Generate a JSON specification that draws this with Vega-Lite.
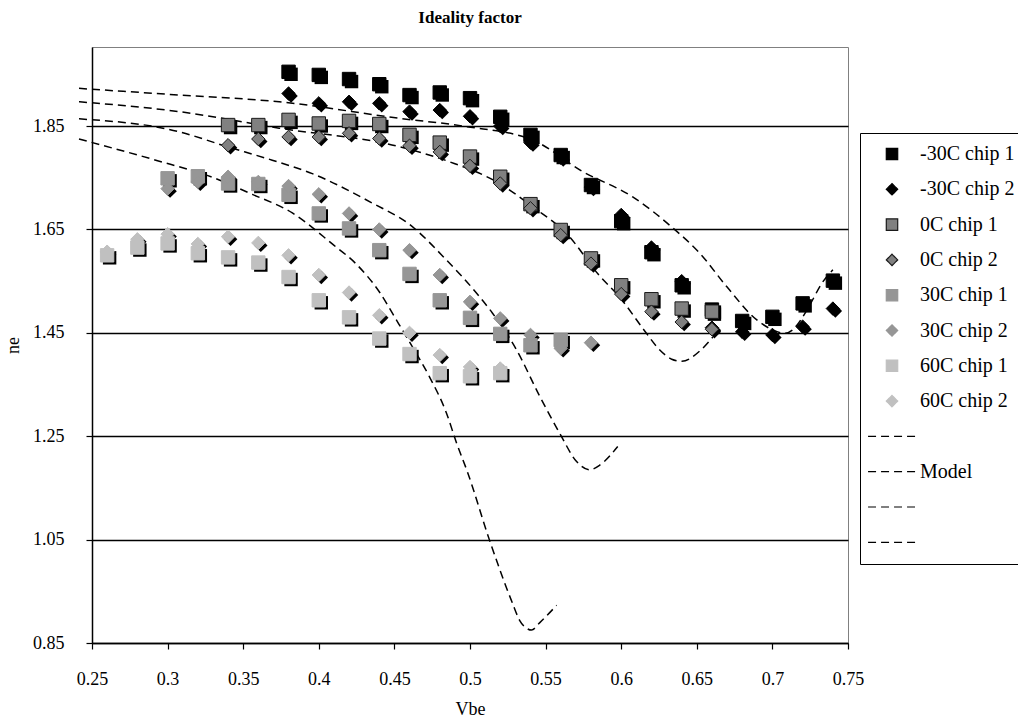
{
  "$schema": "https://vega.github.io/schema/vega-lite/v6.json",
  "width": 756,
  "height": 596,
  "autosize": {"type": "none"},
  "padding": {"left": 92, "top": 47, "right": 170, "bottom": 82},
  "background": "white",
  "title": {"text": "Ideality factor", "font": "Liberation Serif", "fontSize": 17, "fontWeight": "bold", "anchor": "middle", "offset": 20, "color": "black"},
  "config": {
    "font": "Liberation Serif",
    "view": {"stroke": "#808080", "strokeWidth": 1},
    "axis": {"labelFont": "Liberation Serif", "titleFont": "Liberation Serif", "labelFontSize": 18, "titleFontSize": 18, "titleFontWeight": "normal", "labelColor": "black", "titleColor": "black", "domainColor": "black", "tickColor": "black", "tickSize": 6, "domainWidth": 1.5, "tickWidth": 1.2, "labelFlush": false},
    "legend": {"orient": "none", "legendX": 768, "legendY": 86, "title": null, "labelFont": "Liberation Serif", "labelFontSize": 20, "labelColor": "black", "strokeColor": "black", "fillColor": "white", "padding": 11, "symbolSize": 130, "symbolStrokeWidth": 1.2, "labelOffset": 18, "rowPadding": 15.3, "symbolOffset": 11}
  },
  "datasets": {
    "pts": [
      {"s": "-30C chip 1", "v": 0.38, "ne": 1.955}, {"s": "-30C chip 1", "v": 0.40, "ne": 1.949}, {"s": "-30C chip 1", "v": 0.42, "ne": 1.941}, {"s": "-30C chip 1", "v": 0.44, "ne": 1.931}, {"s": "-30C chip 1", "v": 0.46, "ne": 1.910}, {"s": "-30C chip 1", "v": 0.48, "ne": 1.915}, {"s": "-30C chip 1", "v": 0.50, "ne": 1.904}, {"s": "-30C chip 1", "v": 0.52, "ne": 1.868}, {"s": "-30C chip 1", "v": 0.54, "ne": 1.833}, {"s": "-30C chip 1", "v": 0.56, "ne": 1.794}, {"s": "-30C chip 1", "v": 0.58, "ne": 1.736}, {"s": "-30C chip 1", "v": 0.60, "ne": 1.666}, {"s": "-30C chip 1", "v": 0.62, "ne": 1.606}, {"s": "-30C chip 1", "v": 0.64, "ne": 1.542}, {"s": "-30C chip 1", "v": 0.66, "ne": 1.495}, {"s": "-30C chip 1", "v": 0.68, "ne": 1.473}, {"s": "-30C chip 1", "v": 0.70, "ne": 1.481}, {"s": "-30C chip 1", "v": 0.72, "ne": 1.507}, {"s": "-30C chip 1", "v": 0.74, "ne": 1.551},
      {"s": "-30C chip 2", "v": 0.38, "ne": 1.913}, {"s": "-30C chip 2", "v": 0.40, "ne": 1.894}, {"s": "-30C chip 2", "v": 0.42, "ne": 1.897}, {"s": "-30C chip 2", "v": 0.44, "ne": 1.894}, {"s": "-30C chip 2", "v": 0.46, "ne": 1.878}, {"s": "-30C chip 2", "v": 0.48, "ne": 1.881}, {"s": "-30C chip 2", "v": 0.50, "ne": 1.869}, {"s": "-30C chip 2", "v": 0.52, "ne": 1.850}, {"s": "-30C chip 2", "v": 0.54, "ne": 1.818}, {"s": "-30C chip 2", "v": 0.56, "ne": 1.789}, {"s": "-30C chip 2", "v": 0.58, "ne": 1.732}, {"s": "-30C chip 2", "v": 0.60, "ne": 1.678}, {"s": "-30C chip 2", "v": 0.62, "ne": 1.615}, {"s": "-30C chip 2", "v": 0.64, "ne": 1.550}, {"s": "-30C chip 2", "v": 0.66, "ne": 1.460}, {"s": "-30C chip 2", "v": 0.68, "ne": 1.452}, {"s": "-30C chip 2", "v": 0.70, "ne": 1.446}, {"s": "-30C chip 2", "v": 0.72, "ne": 1.462}, {"s": "-30C chip 2", "v": 0.74, "ne": 1.497},
      {"s": "0C chip 1", "v": 0.34, "ne": 1.852}, {"s": "0C chip 1", "v": 0.36, "ne": 1.852}, {"s": "0C chip 1", "v": 0.38, "ne": 1.862}, {"s": "0C chip 1", "v": 0.40, "ne": 1.855}, {"s": "0C chip 1", "v": 0.42, "ne": 1.860}, {"s": "0C chip 1", "v": 0.44, "ne": 1.854}, {"s": "0C chip 1", "v": 0.46, "ne": 1.833}, {"s": "0C chip 1", "v": 0.48, "ne": 1.818}, {"s": "0C chip 1", "v": 0.50, "ne": 1.791}, {"s": "0C chip 1", "v": 0.52, "ne": 1.752}, {"s": "0C chip 1", "v": 0.54, "ne": 1.699}, {"s": "0C chip 1", "v": 0.56, "ne": 1.649}, {"s": "0C chip 1", "v": 0.58, "ne": 1.594}, {"s": "0C chip 1", "v": 0.60, "ne": 1.542}, {"s": "0C chip 1", "v": 0.62, "ne": 1.515}, {"s": "0C chip 1", "v": 0.64, "ne": 1.497}, {"s": "0C chip 1", "v": 0.66, "ne": 1.491},
      {"s": "0C chip 2", "v": 0.34, "ne": 1.813}, {"s": "0C chip 2", "v": 0.36, "ne": 1.825}, {"s": "0C chip 2", "v": 0.38, "ne": 1.829}, {"s": "0C chip 2", "v": 0.40, "ne": 1.829}, {"s": "0C chip 2", "v": 0.42, "ne": 1.836}, {"s": "0C chip 2", "v": 0.44, "ne": 1.826}, {"s": "0C chip 2", "v": 0.46, "ne": 1.812}, {"s": "0C chip 2", "v": 0.48, "ne": 1.800}, {"s": "0C chip 2", "v": 0.50, "ne": 1.773}, {"s": "0C chip 2", "v": 0.52, "ne": 1.739}, {"s": "0C chip 2", "v": 0.54, "ne": 1.691}, {"s": "0C chip 2", "v": 0.56, "ne": 1.639}, {"s": "0C chip 2", "v": 0.58, "ne": 1.584}, {"s": "0C chip 2", "v": 0.60, "ne": 1.525}, {"s": "0C chip 2", "v": 0.62, "ne": 1.491}, {"s": "0C chip 2", "v": 0.64, "ne": 1.471}, {"s": "0C chip 2", "v": 0.66, "ne": 1.457},
      {"s": "30C chip 1", "v": 0.30, "ne": 1.749}, {"s": "30C chip 1", "v": 0.32, "ne": 1.753}, {"s": "30C chip 1", "v": 0.34, "ne": 1.739}, {"s": "30C chip 1", "v": 0.36, "ne": 1.738}, {"s": "30C chip 1", "v": 0.38, "ne": 1.717}, {"s": "30C chip 1", "v": 0.40, "ne": 1.681}, {"s": "30C chip 1", "v": 0.42, "ne": 1.652}, {"s": "30C chip 1", "v": 0.44, "ne": 1.610}, {"s": "30C chip 1", "v": 0.46, "ne": 1.564}, {"s": "30C chip 1", "v": 0.48, "ne": 1.513}, {"s": "30C chip 1", "v": 0.50, "ne": 1.479}, {"s": "30C chip 1", "v": 0.52, "ne": 1.448}, {"s": "30C chip 1", "v": 0.54, "ne": 1.426}, {"s": "30C chip 1", "v": 0.56, "ne": 1.436},
      {"s": "30C chip 2", "v": 0.30, "ne": 1.729}, {"s": "30C chip 2", "v": 0.32, "ne": 1.742}, {"s": "30C chip 2", "v": 0.34, "ne": 1.752}, {"s": "30C chip 2", "v": 0.36, "ne": 1.742}, {"s": "30C chip 2", "v": 0.38, "ne": 1.734}, {"s": "30C chip 2", "v": 0.40, "ne": 1.718}, {"s": "30C chip 2", "v": 0.42, "ne": 1.681}, {"s": "30C chip 2", "v": 0.44, "ne": 1.650}, {"s": "30C chip 2", "v": 0.46, "ne": 1.610}, {"s": "30C chip 2", "v": 0.48, "ne": 1.562}, {"s": "30C chip 2", "v": 0.50, "ne": 1.510}, {"s": "30C chip 2", "v": 0.52, "ne": 1.478}, {"s": "30C chip 2", "v": 0.54, "ne": 1.446}, {"s": "30C chip 2", "v": 0.56, "ne": 1.420}, {"s": "30C chip 2", "v": 0.58, "ne": 1.431},
      {"s": "60C chip 1", "v": 0.26, "ne": 1.600}, {"s": "60C chip 1", "v": 0.28, "ne": 1.615}, {"s": "60C chip 1", "v": 0.30, "ne": 1.623}, {"s": "60C chip 1", "v": 0.32, "ne": 1.604}, {"s": "60C chip 1", "v": 0.34, "ne": 1.596}, {"s": "60C chip 1", "v": 0.36, "ne": 1.586}, {"s": "60C chip 1", "v": 0.38, "ne": 1.558}, {"s": "60C chip 1", "v": 0.40, "ne": 1.513}, {"s": "60C chip 1", "v": 0.42, "ne": 1.480}, {"s": "60C chip 1", "v": 0.44, "ne": 1.439}, {"s": "60C chip 1", "v": 0.46, "ne": 1.409}, {"s": "60C chip 1", "v": 0.48, "ne": 1.372}, {"s": "60C chip 1", "v": 0.50, "ne": 1.366}, {"s": "60C chip 1", "v": 0.52, "ne": 1.372},
      {"s": "60C chip 2", "v": 0.26, "ne": 1.607}, {"s": "60C chip 2", "v": 0.28, "ne": 1.631}, {"s": "60C chip 2", "v": 0.30, "ne": 1.641}, {"s": "60C chip 2", "v": 0.32, "ne": 1.622}, {"s": "60C chip 2", "v": 0.34, "ne": 1.636}, {"s": "60C chip 2", "v": 0.36, "ne": 1.624}, {"s": "60C chip 2", "v": 0.38, "ne": 1.600}, {"s": "60C chip 2", "v": 0.40, "ne": 1.562}, {"s": "60C chip 2", "v": 0.42, "ne": 1.528}, {"s": "60C chip 2", "v": 0.44, "ne": 1.484}, {"s": "60C chip 2", "v": 0.46, "ne": 1.450}, {"s": "60C chip 2", "v": 0.48, "ne": 1.407}, {"s": "60C chip 2", "v": 0.50, "ne": 1.384}, {"s": "60C chip 2", "v": 0.52, "ne": 1.381}
    ],
    "model": [
      {"s": "m1", "v": 0.2414, "ne": 1.923}, {"s": "m1", "v": 0.3076, "ne": 1.910}, {"s": "m1", "v": 0.3738, "ne": 1.897}, {"s": "m1", "v": 0.4533, "ne": 1.865}, {"s": "m1", "v": 0.4977, "ne": 1.849}, {"s": "m1", "v": 0.5414, "ne": 1.823}, {"s": "m1", "v": 0.5745, "ne": 1.762}, {"s": "m1", "v": 0.6076, "ne": 1.713}, {"s": "m1", "v": 0.6341, "ne": 1.653}, {"s": "m1", "v": 0.6520, "ne": 1.604}, {"s": "m1", "v": 0.6699, "ne": 1.539}, {"s": "m1", "v": 0.6897, "ne": 1.475}, {"s": "m1", "v": 0.700, "ne": 1.456}, {"s": "m1", "v": 0.708, "ne": 1.449}, {"s": "m1", "v": 0.7135, "ne": 1.456}, {"s": "m1", "v": 0.7185, "ne": 1.474}, {"s": "m1", "v": 0.7255, "ne": 1.508}, {"s": "m1", "v": 0.7325, "ne": 1.545}, {"s": "m1", "v": 0.740, "ne": 1.572},
      {"s": "Model", "v": 0.2414, "ne": 1.897}, {"s": "Model", "v": 0.3076, "ne": 1.878}, {"s": "Model", "v": 0.3738, "ne": 1.846}, {"s": "Model", "v": 0.4533, "ne": 1.810}, {"s": "Model", "v": 0.4864, "ne": 1.781}, {"s": "Model", "v": 0.5195, "ne": 1.739}, {"s": "Model", "v": 0.5414, "ne": 1.694}, {"s": "Model", "v": 0.5639, "ne": 1.642}, {"s": "Model", "v": 0.5858, "ne": 1.560}, {"s": "Model", "v": 0.5990, "ne": 1.519}, {"s": "Model", "v": 0.6142, "ne": 1.459}, {"s": "Model", "v": 0.6255, "ne": 1.417}, {"s": "Model", "v": 0.6334, "ne": 1.399}, {"s": "Model", "v": 0.6401, "ne": 1.395}, {"s": "Model", "v": 0.6520, "ne": 1.415}, {"s": "Model", "v": 0.6606, "ne": 1.442},
      {"s": "m3", "v": 0.2414, "ne": 1.864}, {"s": "m3", "v": 0.3076, "ne": 1.839}, {"s": "m3", "v": 0.3385, "ne": 1.811}, {"s": "m3", "v": 0.3692, "ne": 1.784}, {"s": "m3", "v": 0.3957, "ne": 1.758}, {"s": "m3", "v": 0.4354, "ne": 1.701}, {"s": "m3", "v": 0.4599, "ne": 1.660}, {"s": "m3", "v": 0.4844, "ne": 1.591}, {"s": "m3", "v": 0.5063, "ne": 1.520}, {"s": "m3", "v": 0.5149, "ne": 1.488}, {"s": "m3", "v": 0.5308, "ne": 1.417}, {"s": "m3", "v": 0.5460, "ne": 1.328}, {"s": "m3", "v": 0.5593, "ne": 1.256}, {"s": "m3", "v": 0.5705, "ne": 1.201}, {"s": "m3", "v": 0.5791, "ne": 1.185}, {"s": "m3", "v": 0.5858, "ne": 1.194}, {"s": "m3", "v": 0.5977, "ne": 1.230},
      {"s": "m4", "v": 0.2414, "ne": 1.825}, {"s": "m4", "v": 0.2922, "ne": 1.784}, {"s": "m4", "v": 0.3295, "ne": 1.751}, {"s": "m4", "v": 0.3560, "ne": 1.718}, {"s": "m4", "v": 0.3825, "ne": 1.682}, {"s": "m4", "v": 0.4089, "ne": 1.622}, {"s": "m4", "v": 0.4248, "ne": 1.583}, {"s": "m4", "v": 0.4401, "ne": 1.529}, {"s": "m4", "v": 0.4513, "ne": 1.475}, {"s": "m4", "v": 0.4619, "ne": 1.423}, {"s": "m4", "v": 0.4732, "ne": 1.365}, {"s": "m4", "v": 0.4844, "ne": 1.295}, {"s": "m4", "v": 0.4911, "ne": 1.237}, {"s": "m4", "v": 0.4983, "ne": 1.181}, {"s": "m4", "v": 0.5129, "ne": 1.049}, {"s": "m4", "v": 0.5281, "ne": 0.927}, {"s": "m4", "v": 0.5328, "ne": 0.894}, {"s": "m4", "v": 0.5372, "ne": 0.879}, {"s": "m4", "v": 0.5407, "ne": 0.875}, {"s": "m4", "v": 0.5460, "ne": 0.889}, {"s": "m4", "v": 0.5573, "ne": 0.923}
    ]
  },
  "encoding": {
    "x": {"field": "v", "type": "quantitative", "scale": {"domain": [0.25, 0.75], "nice": false, "zero": false},
      "axis": {"title": "Vbe", "values": [0.25, 0.3, 0.35, 0.4, 0.45, 0.5, 0.55, 0.6, 0.65, 0.7, 0.75], "format": ".2~f", "grid": false, "labelPadding": 21, "titlePadding": 12, "labelFlush": false}},
    "y": {"field": "ne", "type": "quantitative", "scale": {"domain": [0.85, 2.003], "nice": false, "zero": false},
      "axis": {"title": "ne", "values": [0.85, 1.05, 1.25, 1.45, 1.65, 1.85], "format": ".2f", "grid": true, "gridColor": "black", "gridWidth": 1.3, "gridOpacity": 1, "labelPadding": 22, "titlePadding": 10, "labelFlush": false}}
  },
  "layer": [
    {
      "data": {"name": "model"},
      "mark": {"type": "line", "clip": false, "interpolate": "monotone", "strokeWidth": 1.5},
      "encoding": {
        "stroke": {"field": "s", "type": "nominal",
          "scale": {"domain": ["-30C chip 1", "-30C chip 2", "0C chip 1", "0C chip 2", "30C chip 1", "30C chip 2", "60C chip 1", "60C chip 2", "m1", "Model", "m3", "m4"],
            "range": ["#000000", "#000000", "#1a1a1a", "#1a1a1a", "#969696", "#969696", "#C0C0C0", "#C0C0C0", "#000000", "#000000", "#000000", "#000000"]},
          "legend": {"labelExpr": "indexof(datum.label, 'chip') >= 0 || datum.label == 'Model' ? datum.label : ''"}},
        "strokeDash": {"field": "s", "type": "nominal",
          "scale": {"domain": ["-30C chip 1", "-30C chip 2", "0C chip 1", "0C chip 2", "30C chip 1", "30C chip 2", "60C chip 1", "60C chip 2", "m1", "Model", "m3", "m4"],
            "range": [[1, 0], [1, 0], [1, 0], [1, 0], [1, 0], [1, 0], [1, 0], [1, 0], [8, 5], [8, 5], [8, 5], [8, 5]]},
          "legend": {"labelExpr": "indexof(datum.label, 'chip') >= 0 || datum.label == 'Model' ? datum.label : ''"}}
      }
    },
    {
      "data": {"name": "pts"},
      "mark": {"type": "point", "filled": true, "size": 180, "opacity": 1, "fill": "black", "xOffset": 2.5, "yOffset": 2.5, "strokeWidth": 0},
      "encoding": {
        "shape": {"field": "s", "type": "nominal",
          "scale": {"domain": ["-30C chip 1", "-30C chip 2", "0C chip 1", "0C chip 2", "30C chip 1", "30C chip 2", "60C chip 1", "60C chip 2", "m1", "Model", "m3", "m4"],
            "range": ["square", "diamond", "square", "diamond", "square", "diamond", "square", "diamond", "M-4.2,0H4.2", "M-4.2,0H4.2", "M-4.2,0H4.2", "M-4.2,0H4.2"]},
          "legend": {"labelExpr": "indexof(datum.label, 'chip') >= 0 || datum.label == 'Model' ? datum.label : ''"}}
      }
    },
    {
      "data": {"name": "pts"},
      "mark": {"type": "point", "filled": true, "size": 180, "opacity": 1, "strokeWidth": 1},
      "encoding": {
        "shape": {"field": "s", "type": "nominal"},
        "fill": {"field": "s", "type": "nominal",
          "scale": {"domain": ["-30C chip 1", "-30C chip 2", "0C chip 1", "0C chip 2", "30C chip 1", "30C chip 2", "60C chip 1", "60C chip 2", "m1", "Model", "m3", "m4"],
            "range": ["#000000", "#000000", "#808080", "#808080", "#969696", "#969696", "#C0C0C0", "#C0C0C0", "#000000", "#000000", "#000000", "#000000"]},
          "legend": {"labelExpr": "indexof(datum.label, 'chip') >= 0 || datum.label == 'Model' ? datum.label : ''"}},
        "stroke": {"field": "s", "type": "nominal"}
      }
    }
  ]
}
